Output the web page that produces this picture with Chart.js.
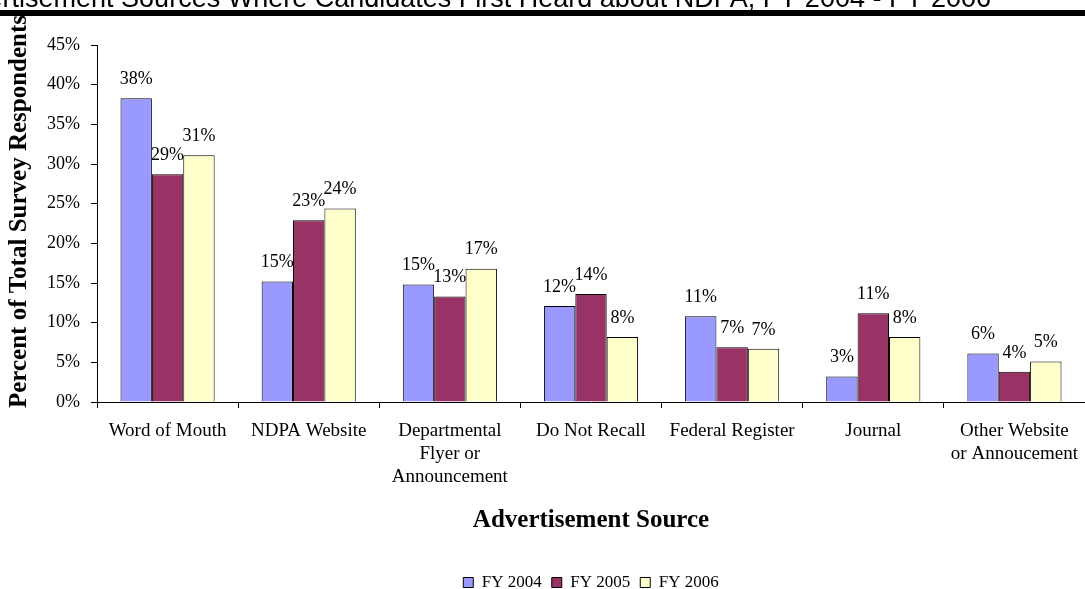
<!DOCTYPE html>
<html><head><meta charset="utf-8">
<script src="https://cdn.jsdelivr.net/npm/chart.js@4.4.1/dist/chart.umd.min.js"></script>
<style>html,body{margin:0;padding:0;background:#fff;overflow:hidden}canvas{display:block}</style>
</head><body>
<canvas id="c" width="1085" height="589"></canvas>
<script>
const categories = ['Word of Mouth', 'NDPA Website', ['Departmental', 'Flyer or', 'Announcement'], 'Do Not Recall', 'Federal Register', 'Journal', ['Other Website', 'or Annoucement']];
const seriesNames = ['FY 2004', 'FY 2005', 'FY 2006'];
const fy2004 = [38.3, 15.2, 14.8, 12.1, 10.8, 3.2, 6.1];
const fy2005 = [28.7, 22.9, 13.3, 13.6, 6.9, 11.2, 3.8];
const fy2006 = [31.1, 24.4, 16.8, 8.2, 6.7, 8.2, 5.1];
const seriesColors = ['#9999FF', '#993366', '#FFFFCC'];
const chartTitle = 'Advertisement Sources Where Candidates First Heard about NDPA, FY 2004 - FY 2006';
const yTitle = 'Percent of Total Survey Respondents';
const xTitle = 'Advertisement Source';

const SERIF = '"Liberation Serif", "Times New Roman", serif';
const SANS = '"Liberation Sans", Arial, sans-serif';

const bgPlugin = {
  id: 'bg',
  beforeDraw(chart) {
    const ctx = chart.ctx;
    ctx.save();
    ctx.fillStyle = '#fff';
    ctx.fillRect(0, 0, chart.width, chart.height);
    ctx.restore();
  }
};

const labelPlugin = {
  id: 'valueLabels',
  afterDatasetsDraw(chart) {
    const ctx = chart.ctx;
    ctx.save();
    ctx.font = '18px ' + SERIF;
    ctx.fillStyle = '#000';
    ctx.textAlign = 'center';
    ctx.textBaseline = 'middle';
    chart.data.datasets.forEach((ds, i) => {
      chart.getDatasetMeta(i).data.forEach((bar, j) => {
        ctx.fillText(Math.round(ds.data[j]) + '%', bar.x, bar.y - 19);
      });
    });
    ctx.restore();
  }
};

const decoPlugin = {
  id: 'deco',
  afterDraw(chart) {
    const ctx = chart.ctx;
    const area = chart.chartArea;
    ctx.save();
    // y axis title
    ctx.translate(26, (area.top + area.bottom) / 2 - 12);
    ctx.rotate(-Math.PI / 2);
    ctx.font = 'bold 25px ' + SERIF;
    ctx.fillStyle = '#000';
    ctx.textAlign = 'center';
    ctx.textBaseline = 'alphabetic';
    ctx.fillText(yTitle, 0, 0);
    ctx.restore();
    // main title (clipped at top-left like the reference)
    ctx.save();
    ctx.font = '27px ' + SANS;
    ctx.fillStyle = '#000';
    ctx.textAlign = 'right';
    ctx.textBaseline = 'alphabetic';
    ctx.fillText(chartTitle, 991, 7);
    // thick rule
    ctx.fillRect(0, 10, chart.width, 6);
    ctx.restore();
  }
};

new Chart(document.getElementById('c'), {
  type: 'bar',
  data: {
    labels: categories,
    datasets: [fy2004, fy2005, fy2006].map((d, i) => ({
      label: seriesNames[i],
      data: d,
      backgroundColor: seriesColors[i],
      borderColor: '#000',
      borderWidth: 1,
      borderSkipped: 'bottom',
      barPercentage: 1,
      categoryPercentage: 0.667
    }))
  },
  options: {
    responsive: false,
    animation: false,
    devicePixelRatio: 1,
    layout: { padding: { top: 45, left: 0, right: 0, bottom: 0 } },
    plugins: {
      title: { display: false },
      tooltip: { enabled: false },
      legend: {
        position: 'bottom',
        fullSize: false,
        maxHeight: 25,
        labels: {
          boxWidth: 10,
          boxHeight: 10,
          padding: 10,
          color: '#000',
          font: { family: SERIF, size: 17 }
        }
      }
    },
    scales: {
      x: {
        afterFit(scale) { scale.height = 162; scale.paddingLeft = 0; scale.paddingRight = 0; },
        grid: { display: true, drawOnChartArea: false, drawTicks: true, tickLength: 6, color: '#000', offset: true },
        border: { display: true, color: '#000', width: 1 },
        ticks: { color: '#000', font: { family: SERIF, size: 19, lineHeight: 1.2 }, padding: 12, maxRotation: 0, minRotation: 0, autoSkip: false },
        title: { display: true, text: xTitle, color: '#000', font: { family: SERIF, size: 25, weight: 'bold', lineHeight: 1.2 }, padding: { top: 0, bottom: 28 } }
      },
      y: {
        min: 0,
        max: 45,
        afterFit(scale) { scale.width = 97; },
        grid: { display: true, drawOnChartArea: false, drawTicks: true, tickLength: 6, color: '#000' },
        border: { display: true, color: '#000', width: 1 },
        ticks: { stepSize: 5, color: '#000', padding: 11, font: { family: SERIF, size: 18 }, callback: v => v + '%' }
      }
    }
  },
  plugins: [bgPlugin, labelPlugin, decoPlugin]
});
</script>
</body></html>
